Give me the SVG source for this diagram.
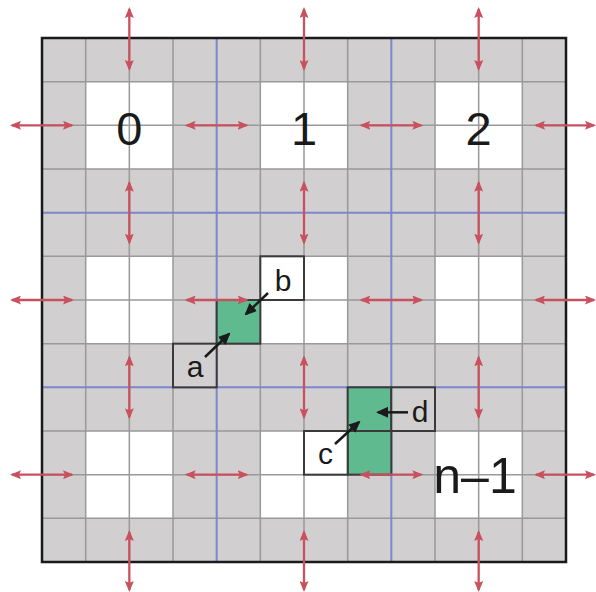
<svg xmlns="http://www.w3.org/2000/svg" width="596" height="592" viewBox="0 0 596 592">
<style>
.bg{fill:#d1cfcf}
.wh{fill:#ffffff}
.gr{fill:#5fbb8f}
.grid{fill:none;stroke:#999999;stroke-width:1.5}
.blue{fill:none;stroke:#7b86cc;stroke-width:2}
.box{stroke:#3a3a3a;stroke-width:2}
.outer{fill:none;stroke:#1a1a1a;stroke-width:2.5}
.red{stroke:#c9505e;stroke-width:2.3;fill:none;marker-start:url(#rh);marker-end:url(#rh)}
.blk{stroke:#1a1a1a;stroke-width:2.5;fill:none;marker-end:url(#bh)}
.big{font-family:"Liberation Sans",Arial,sans-serif;font-size:47px;fill:#1a1a1a;text-anchor:middle}
.lbl{font-family:"Liberation Sans",Arial,sans-serif;font-size:30px;fill:#1a1a1a;text-anchor:middle}
</style>
<defs>
<marker id="rh" viewBox="0 0 11 9" refX="9" refY="4.5" markerWidth="11" markerHeight="9" markerUnits="userSpaceOnUse" orient="auto-start-reverse">
<path d="M0,0 L11,4.5 L0,9 L2,4.5 z" fill="#c9505e"/>
</marker>
<marker id="bh" viewBox="0 0 12 11" refX="10" refY="5.5" markerWidth="12" markerHeight="11" markerUnits="userSpaceOnUse" orient="auto">
<path d="M0,0 L12,5.5 L0,11 z" fill="#1a1a1a"/>
</marker>
</defs>
<g id="grid">
<rect class="bg" x="42" y="38" width="524" height="524"/>
<rect class="wh" x="85.67" y="81.67" width="87.33" height="87.33"/>
<rect class="wh" x="260.33" y="81.67" width="87.33" height="87.33"/>
<rect class="wh" x="435" y="81.67" width="87.33" height="87.33"/>
<rect class="wh" x="85.67" y="256.33" width="87.33" height="87.33"/>
<rect class="wh" x="260.33" y="256.33" width="87.33" height="87.33"/>
<rect class="wh" x="435" y="256.33" width="87.33" height="87.33"/>
<rect class="wh" x="85.67" y="431" width="87.33" height="87.33"/>
<rect class="wh" x="260.33" y="431" width="87.33" height="87.33"/>
<rect class="wh" x="435" y="431" width="87.33" height="87.33"/>
<path class="grid" d="M85.67,38V562M129.33,38V562M173,38V562M260.33,38V562M304,38V562M347.67,38V562M435,38V562M478.67,38V562M522.33,38V562M42,81.67H566M42,125.33H566M42,169H566M42,256.33H566M42,300H566M42,343.67H566M42,431H566M42,474.67H566M42,518.33H566"/>
<path class="blue" d="M216.67,38V562M391.33,38V562M42,212.67H566M42,387.33H566"/>
<rect class="outer" x="42" y="38" width="524" height="524"/>
</g>
<g id="green1"><rect class="gr box" x="216.67" y="300" width="43.67" height="43.67"/></g>
<g id="green2"><rect class="gr box" x="347.67" y="387.33" width="43.67" height="87.33"/><line class="box" x1="347.67" y1="431" x2="391.33" y2="431"/></g>
<g id="node-a"><rect class="bg box" x="173" y="343.67" width="43.67" height="43.67"/><text class="lbl" x="195" y="377">a</text></g>
<g id="node-b"><rect class="wh box" x="260.33" y="256.33" width="43.67" height="43.67"/><text class="lbl" x="283" y="291">b</text></g>
<g id="node-c"><rect class="wh box" x="304" y="431" width="43.67" height="43.67"/><text class="lbl" x="325.5" y="463.5">c</text></g>
<g id="node-d"><rect class="bg box" x="391.33" y="387.33" width="43.67" height="43.67"/><text class="lbl" x="420" y="422">d</text></g>
<g id="labels">
<text class="big" x="129.33" y="145">0</text>
<text class="big" x="304" y="145">1</text>
<text class="big" x="478.67" y="145">2</text>
<text class="big" x="475" y="493" style="font-size:50px">n–1</text>
</g>
<g id="connectors">
<line class="red" x1="12" y1="125.33" x2="72" y2="125.33"/>
<line class="red" x1="186.67" y1="125.33" x2="246.67" y2="125.33"/>
<line class="red" x1="361.33" y1="125.33" x2="421.33" y2="125.33"/>
<line class="red" x1="536" y1="125.33" x2="594" y2="125.33"/>
<line class="red" x1="12" y1="300" x2="72" y2="300"/>
<line class="red" x1="186.67" y1="300" x2="246.67" y2="300"/>
<line class="red" x1="361.33" y1="300" x2="421.33" y2="300"/>
<line class="red" x1="536" y1="300" x2="594" y2="300"/>
<line class="red" x1="12" y1="474.67" x2="72" y2="474.67"/>
<line class="red" x1="186.67" y1="474.67" x2="246.67" y2="474.67"/>
<line class="red" x1="361.33" y1="474.67" x2="421.33" y2="474.67"/>
<line class="red" x1="536" y1="474.67" x2="594" y2="474.67"/>
<line class="red" x1="129.33" y1="9" x2="129.33" y2="69"/>
<line class="red" x1="129.33" y1="182.67" x2="129.33" y2="242.67"/>
<line class="red" x1="129.33" y1="357.33" x2="129.33" y2="417.33"/>
<line class="red" x1="129.33" y1="532" x2="129.33" y2="590"/>
<line class="red" x1="304" y1="9" x2="304" y2="69"/>
<line class="red" x1="304" y1="182.67" x2="304" y2="242.67"/>
<line class="red" x1="304" y1="357.33" x2="304" y2="417.33"/>
<line class="red" x1="304" y1="532" x2="304" y2="590"/>
<line class="red" x1="478.67" y1="9" x2="478.67" y2="69"/>
<line class="red" x1="478.67" y1="182.67" x2="478.67" y2="242.67"/>
<line class="red" x1="478.67" y1="357.33" x2="478.67" y2="417.33"/>
<line class="red" x1="478.67" y1="532" x2="478.67" y2="590"/>
<line class="blk" x1="205" y1="357" x2="229" y2="334"/>
<line class="blk" x1="268" y1="293" x2="246" y2="314"/>
<line class="blk" x1="335" y1="444" x2="359" y2="422"/>
<line class="blk" x1="408" y1="412.33" x2="378" y2="412.33"/>
</g>
</svg>
